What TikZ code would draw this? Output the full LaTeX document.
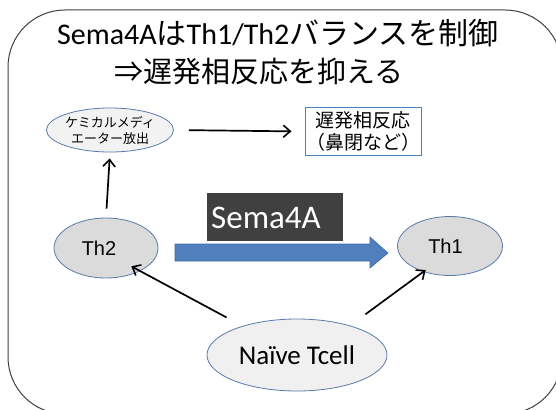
\documentclass[tikz,border=0pt]{standalone}
\usepackage{fontspec}
\setmainfont{Carlito}
\newfontfamily\jp{Noto Sans CJK JP}
\newfontfamily\lib{Liberation Sans}
\usetikzlibrary{arrows.meta,shapes.geometric}
\definecolor{edgeblue}{HTML}{5A7BAA}
\definecolor{boxblue}{HTML}{4F81BD}
\definecolor{arrowblue}{HTML}{4F7FBC}
\definecolor{darkbox}{HTML}{404040}
\tikzset{
  cell/.style={ellipse, draw=edgeblue, line width=0.8pt, fill=#1, inner sep=0pt},
  cell/.default={gray!25},
  arr/.style={-{Straight Barb[length=7pt,width=12pt,line width=1.6pt]}, line width=1.7pt, black},
}
\begin{document}
\begin{tikzpicture}[x=1pt,y=-1pt]
\useasboundingbox (0,0) rectangle (556,409);
\fill[white] (0,0) rectangle (556,409);
\draw[line width=1pt, black!75, rounded corners=57] (8,10) rectangle (562,414);
% title
\node[font=\fontsize{30}{34}\selectfont, anchor=center] (t1) at (278,33) {Sema4A{\jp は}Th1/Th2{\jp バランスを制御}};
\node[font=\jp\fontsize{29}{34}\selectfont, anchor=center] (t2) at (259,72) {⇒遅発相反応を抑える};
% nodes
\node[cell=gray!10, minimum width=127pt, minimum height=44pt, align=center, font=\jp\fontsize{13}{16}\selectfont] (chem) at (110,130) {ケミカルメディ\\エーター放出};
\node[draw=boxblue, line width=1pt, fill=white, minimum width=110pt, minimum height=47pt, align=center, font=\jp\fontsize{19}{22}\selectfont, inner sep=1pt] (late) at (363,131.5) {遅発相反応\\（鼻閉など）};
\node[cell=gray!28, minimum width=104pt, minimum height=60pt, font=\lib\fontsize{20}{24}\selectfont] (th2) at (106,248) {Th2\hspace*{14pt}};
\node[cell=gray!28, minimum width=105pt, minimum height=59pt, font=\lib\fontsize{20}{24}\selectfont] (th1) at (450,246) {Th1\hspace*{9pt}};
\node[cell=gray!12, minimum width=180pt, minimum height=72pt, font=\fontsize{27}{30}\selectfont] (naive) at (297,355) {Naïve Tcell};
% block arrow
\fill[arrowblue, draw=arrowblue!85!black, line width=0.6pt] (175,244) -- (370,244) -- (370,237) -- (388,253) -- (370,268) -- (370,261) -- (175,261) -- cycle;
\node[fill=darkbox, minimum width=136pt, minimum height=48pt, inner sep=0pt] (sema) at (275,217) {};
\node[anchor=base west, text=white, font=\fontsize{33}{36}\selectfont, inner sep=0pt] (semat) at (211,228) {Sema4A};
% connectors
\draw[arr, shorten <=15pt, shorten >=13pt] (chem.east) -- (late.west);
\draw[arr, shorten <=9pt, shorten >=6pt] (th2.north) -- (chem.south);
\draw[arr, shorten <=18pt, shorten >=-10pt] (naive.152.5) -- (th2.-34);
\draw[arr, shorten <=19pt, shorten >=-3pt] (naive.29) -- (th1.224);
\end{tikzpicture}
\end{document}
